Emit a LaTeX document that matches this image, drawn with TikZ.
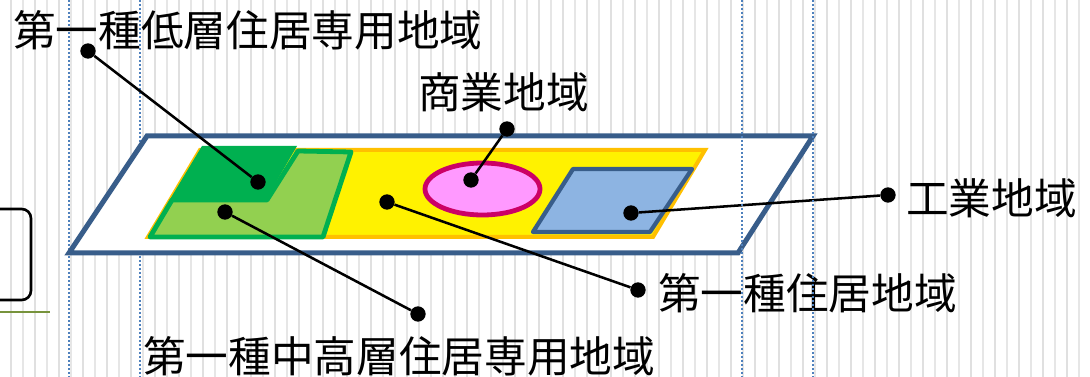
\documentclass[tikz,border=0pt]{standalone}
\usepackage{fontspec}
\setmainfont{Noto Sans CJK JP}
\usetikzlibrary{calc}
\definecolor{kante}{RGB}{56,93,138}
\definecolor{gitter}{RGB}{224,224,224}
\definecolor{hilfslinie}{RGB}{79,129,189}
\definecolor{oliv}{RGB}{119,147,60}
\definecolor{gold}{RGB}{255,192,0}
\definecolor{dunkelgruen}{RGB}{0,176,80}
\definecolor{hellgruen}{RGB}{146,208,80}
\definecolor{rosa}{RGB}{255,153,255}
\definecolor{weinrot}{RGB}{204,0,102}
\definecolor{hellblau}{RGB}{141,180,226}
\tikzset{
    punkt/.style={circle, fill=black, inner sep=0pt, minimum size=11.5pt},
    verbinder/.style={line width=1.9pt, black},
    guide/.style={hilfslinie, line width=1.2pt, dash pattern=on 1.5pt off 1.5pt},
    beschriftung/.style={anchor=base west, inner sep=0pt}
}

\begin{document}
\begin{tikzpicture}[x=0.75pt, y=-0.75pt, font=\fontsize{32pt}{36pt}\selectfont]

    \useasboundingbox (0,0) rectangle (1090,377);

    \begin{scope}
        \clip (0,0) rectangle (1090,377);
        \foreach \x in {11,35,...,1090}
            \draw[gitter, line width=1.5pt] (\x,0) -- (\x,377);
        \foreach \x in {23,47,...,1090}
            \draw[gitter!80, line width=0.8pt] (\x,0) -- (\x,377);
        \foreach \x in {69,140}
            \draw[guide] (\x,0) -- (\x,377);
        \draw[line width=2pt, rounded corners=7pt] (-20,209) rectangle (31,300);
        \draw[oliv, line width=1.1pt] (0,312) -- (50,312);
    \end{scope}

    % Gebiet
    \draw[line width=3.75pt, fill=white, draw=kante] (69,253) -- (147,136) -- (813,136) -- (738,253) -- cycle;
    \draw[line width=3pt, fill=yellow, draw=gold] (148,237) -- (200,150) -- (705,150) -- (653,237) -- cycle;
    \fill[dunkelgruen] (169,201) -- (202,146) -- (297,146) -- (265,201) -- cycle;
    \draw[line width=3.6pt, fill=hellgruen, draw=dunkelgruen, line join=round] (150,237) -- (172,200) -- (267,200) -- (298,151) -- (351,152) -- (323,237) -- cycle;
    \draw[line width=3.6pt, fill=rosa, draw=weinrot] (482.5,189) ellipse [x radius=57.5, y radius=26];
    \draw[line width=3.2pt, fill=hellblau, draw=kante, line join=round] (533,232) -- (573,169) -- (692,169) -- (650,232) -- cycle;

    \node[beschriftung] (N1) at (13,47) {第一種低層住居専用地域};
    \node[beschriftung] (N2) at (143,373) {第一種中高層住居専用地域};
    \node[beschriftung] (N3) at (418,109) {商業地域};
    \node[beschriftung] (N4) at (906,215) {工業地域};
    \node[beschriftung] (N5) at (658,310) {第一種住居地域};

    \foreach \n/\x/\y in {1/88/51, 2/418/314, 3/507/129, 4/888/195, 5/638/290}{
            \node[punkt] (L\n) at (\x,\y) {};
        }

    \foreach \n/\x/\y in {1/258/182, 2/225/212, 3/471/180, 4/631/213, 5/387/202}{
            \node[punkt] (T\n) at (\x,\y) {};
        }

    \foreach \n in {1,...,5}
        \draw[verbinder] (L\n) -- (T\n);

    \foreach \x in {742,813}
        \draw[guide] (\x,0) -- (\x,377);

\end{tikzpicture}
\end{document}
